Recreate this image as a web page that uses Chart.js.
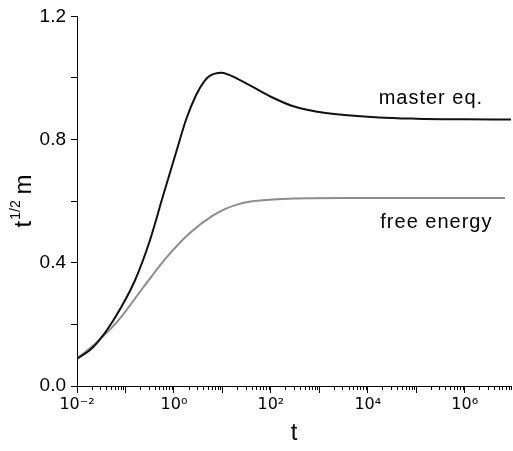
<!DOCTYPE html>
<html>
<head>
  <title>t^1/2 m vs t</title>
  <script src="https://cdn.jsdelivr.net/npm/chart.js"></script>
  <style>
    body {
      margin: 0;
      background: #fff;
    }
  </style>
</head>
<body>
  <canvas id="curveChart" width="513" height="451"></canvas>

  <script>
    // values (t on a log axis)
    const masterT = [0.01, 0.018, 0.026, 0.0556, 0.155, 0.315, 0.59, 1.11, 1.79, 2.87, 4.25, 5.38, 9.4, 22, 92, 280, 1350, 16600, 1e5, 1e6, 9e6];
    const masterM = [0.089, 0.115, 0.14, 0.212, 0.341, 0.47, 0.615, 0.759, 0.866, 0.945, 0.99, 1.006, 1.017, 0.995, 0.942, 0.909, 0.886, 0.872, 0.868, 0.866, 0.865];

    const freeT = [0.01, 0.026, 0.0705, 0.23, 0.69, 2.1, 6.3, 11.9, 20, 35.6, 80, 234, 3200, 6.8e6];
    const freeM = [0.089, 0.143, 0.212, 0.319, 0.416, 0.496, 0.553, 0.576, 0.589, 0.598, 0.604, 0.608, 0.61, 0.61];

    const seriesNames = ['master eq.', 'free energy'];
    const labelT = [2e5, 2.6e5];
    const labelM = [0.933, 0.531];

    const xMin = 0.01, xMax = 9e6;
    const yTicks = [0, 0.2, 0.4, 0.6, 0.8, 1.0, 1.2];
    const supers = { '-': '⁻', '0': '⁰', '1': '¹', '2': '²', '3': '³', '4': '⁴', '5': '⁵', '6': '⁶', '7': '⁷', '8': '⁸', '9': '⁹' };

    const FONT = "'Liberation Sans', Arial, sans-serif";

    function toPoints(ts, ms) {
      return ts.map((t, i) => ({ x: t, y: ms[i] }));
    }
    function isDecade(v) {
      const l = Math.log10(v);
      return Math.abs(l - Math.round(l)) < 1e-9;
    }

    // short minor ticks, series labels and the y title
    const extras = {
      id: 'extras',
      afterDraw(chart) {
        const ctx = chart.ctx;
        const xs = chart.scales.x, ys = chart.scales.y;
        const base = chart.chartArea.bottom;

        ctx.save();
        ctx.strokeStyle = '#000';
        ctx.lineWidth = 1;
        xs.ticks.forEach(tk => {
          if (isDecade(tk.value)) return;
          const px = Math.round(xs.getPixelForValue(tk.value)) + 0.5;
          ctx.beginPath();
          ctx.moveTo(px, base);
          ctx.lineTo(px, base + 4);
          ctx.stroke();
        });

        ctx.fillStyle = '#000';
        ctx.font = '20px ' + FONT;
        ctx.letterSpacing = '1px';
        ctx.textAlign = 'center';
        ctx.textBaseline = 'middle';
        seriesNames.forEach((name, i) => {
          ctx.fillText(name, xs.getPixelForValue(labelT[i]), ys.getPixelForValue(labelM[i]));
        });
        ctx.letterSpacing = '0px';

        // y title: t^{1/2} m
        ctx.translate(31, 201);
        ctx.rotate(-Math.PI / 2);
        ctx.textAlign = 'left';
        ctx.textBaseline = 'alphabetic';
        const big = '24px ' + FONT, small = '14px ' + FONT;
        ctx.font = big;
        const wT = ctx.measureText('t').width;
        const wM = ctx.measureText(' m').width;
        ctx.font = small;
        const wS = ctx.measureText('1/2').width;
        let x0 = -(wT + wS + wM) / 2;
        ctx.font = big;
        ctx.fillText('t', x0, 0);
        ctx.font = small;
        ctx.fillText('1/2', x0 + wT + 1, -11);
        ctx.font = big;
        ctx.fillText(' m', x0 + wT + wS, 0);
        ctx.restore();
      }
    };

    const ctx = document.getElementById('curveChart').getContext('2d');
    new Chart(ctx, {
      type: 'line',
      data: {
        datasets: [
          {
            label: seriesNames[0],
            data: toPoints(masterT, masterM),
            borderColor: '#111',
            borderWidth: 2,
            pointRadius: 0,
            cubicInterpolationMode: 'monotone'
          },
          {
            label: seriesNames[1],
            data: toPoints(freeT, freeM),
            borderColor: '#8c8c8c',
            borderWidth: 2,
            pointRadius: 0,
            cubicInterpolationMode: 'monotone'
          }
        ]
      },
      options: {
        responsive: false,
        animation: false,
        devicePixelRatio: 1,
        layout: { padding: { top: 13, right: 0, left: 0, bottom: 0 } },
        plugins: {
          legend: { display: false },
          tooltip: { enabled: false }
        },
        scales: {
          x: {
            type: 'logarithmic',
            min: xMin,
            max: xMax,
            afterBuildTicks(scale) {
              const ticks = [];
              for (let k = -2; k <= 6; k++) {
                for (let m = 1; m <= 9; m++) {
                  const v = parseFloat((m * Math.pow(10, k)).toPrecision(6));
                  if (v >= xMin && v <= xMax) ticks.push({ value: v });
                }
              }
              scale.ticks = ticks;
            },
            afterFit(scale) { scale.height = 65; },
            ticks: {
              autoSkip: false,
              maxRotation: 0,
              padding: 2,
              color: '#000',
              font: { family: "'DejaVu Sans', sans-serif", size: 16 },
              callback(value) {
                if (!isDecade(value)) return '';
                const k = Math.round(Math.log10(value));
                if (k % 2 !== 0) return '';
                return '10' + String(k).split('').map(c => supers[c]).join('');
              }
            },
            grid: {
              drawOnChartArea: false,
              tickLength: 7,
              tickColor: c => (c.tick && isDecade(c.tick.value)) ? '#000' : 'rgba(0,0,0,0)'
            },
            border: { color: '#000', width: 1 },
            title: {
              display: true,
              text: 't',
              color: '#000',
              font: { family: FONT, size: 24 },
              padding: { top: 0, bottom: 3 }
            }
          },
          y: {
            min: 0,
            max: 1.2,
            afterBuildTicks(scale) {
              scale.ticks = yTicks.map(v => ({ value: v }));
            },
            afterFit(scale) { scale.width = 77; },
            ticks: {
              padding: 5,
              color: '#000',
              font: { family: FONT, size: 19 },
              callback: (value, i) => (i % 2 === 0 ? value.toFixed(1) : '')
            },
            grid: {
              drawOnChartArea: false,
              tickLength: 6,
              tickColor: '#000'
            },
            border: { color: '#000', width: 1 }
          }
        }
      },
      plugins: [extras]
    });
  </script>
</body>
</html>
